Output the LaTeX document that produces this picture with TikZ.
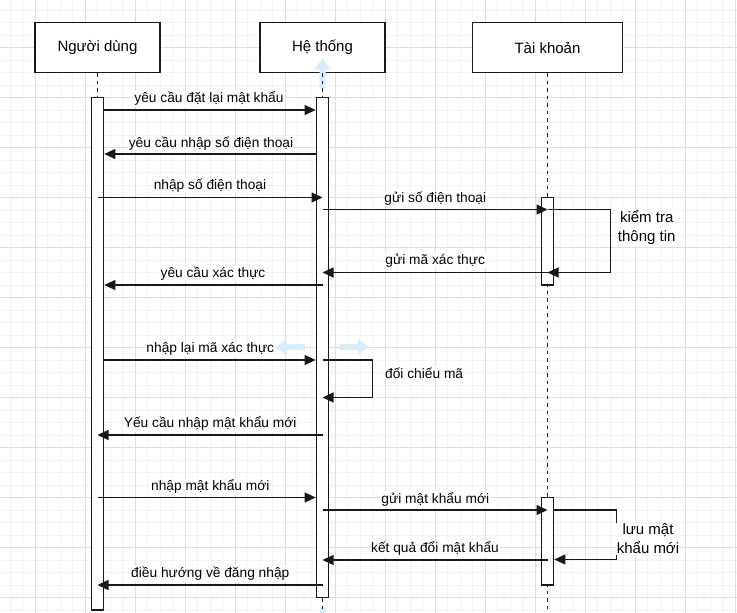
\documentclass[tikz,border=0pt]{standalone}
\usepackage{fontspec}
\setmainfont{Liberation Sans}
\usetikzlibrary{arrows.meta}

\definecolor{gridminor}{RGB}{243,243,243}
\definecolor{gridmajor}{RGB}{222,222,222}
\definecolor{hoverblue}{RGB}{216,237,251}
\definecolor{ink}{RGB}{25,25,25}

\begin{document}
\begin{tikzpicture}[x=1pt,y=-1pt,
  actor/.style={draw=ink,fill=white,line width=1.2pt,minimum width=125pt,
    minimum height=50pt,inner sep=0pt,font=\fontsize{15}{18}\selectfont},
  bar/.style={draw=ink,fill=white,line width=1.2pt,minimum width=12.5pt,inner sep=0pt},
  life/.style={draw=ink,line width=1.2pt,dash pattern=on 3.75pt off 3.75pt},
  msg/.style={draw=ink,line width=1.2pt,-{Triangle[length=11pt,width=10pt]}},
  lbl/.style={fill=white,inner sep=1pt,anchor=base,font=\fontsize{13.75}{16.5}\selectfont},
  note/.style={fill=white,inner sep=1pt,align=center,font=\fontsize{15}{19}\selectfont},
  guide/.style={fill=hoverblue},
]
% canvas
\useasboundingbox (0,0) rectangle (737,613);
\fill[white] (0,0) rectangle (737,613);

% background grid: fine lines every 12.5, strong lines every 50
\foreach \i in {0,...,58}{
  \draw[gridminor,line width=1pt] ({10+12.5*\i},0) -- ({10+12.5*\i},613);}
\foreach \j in {0,...,48}{
  \draw[gridminor,line width=1pt] (0,{10+12.5*\j}) -- (737,{10+12.5*\j});}
\foreach \i in {-1,...,14}{
  \draw[gridmajor,line width=1pt] ({35+50*\i},0) -- ({35+50*\i},613);}
\foreach \j in {0,...,11}{
  \draw[gridmajor,line width=1pt] (0,{47.5+50*\j}) -- (737,{47.5+50*\j});}

% participants
\node[actor] (u) at (97.5,47.5) {Người dùng};
\node[actor] (s) at (322.5,47.5) {Hệ thống};
\node[actor,minimum width=150pt] (t) at (547.5,47.5) {Tài khoản};

% faint guide arrows around the system bar
\fill[guide] (322.5,58.5) -- (330.5,69.5) -- (325.5,69.5) -- (325.5,88)
  -- (319.5,88) -- (319.5,69.5) -- (314.5,69.5) -- cycle;
\fill[guide] (319.5,607) rectangle (325.5,613);
\fill[guide] (275.5,347) -- (286.5,339) -- (286.5,344) -- (305,344)
  -- (305,350) -- (286.5,350) -- (286.5,355) -- cycle;
\fill[guide] (369,347) -- (358,339) -- (358,344) -- (339.5,344)
  -- (339.5,350) -- (358,350) -- (358,355) -- cycle;

% lifelines
\coordinate (uend) at (97.5,613);
\coordinate (send) at (322.5,613);
\coordinate (tend) at (547.5,613);
\draw[life] (u.south) -- (uend);
\draw[life] (s.south) -- (send);
\draw[life] (t.south) -- (tend);

% activation bars
\node[bar,minimum height=512.5pt] (ub) at (97.5,353.75) {};
\node[bar,minimum height=500pt] (sb) at (322.5,347.5) {};
\node[bar,minimum height=87.5pt] (tb1) at (547.5,241.25) {};
\node[bar,minimum height=87.5pt] (tb2) at (547.5,541.25) {};

% messages
\draw[msg] (ub.east |- 0,110) -- (sb.west |- 0,110);
\node[lbl] (l1) at (209,102.8) {yêu cầu đặt lại mật khẩu};

\draw[msg] (sb.west |- 0,154) -- (ub.east |- 0,154);
\node[lbl] (l2) at (211,147.8) {yêu cầu nhập số điện thoại};

\draw[msg] (ub.center |- 0,197.5) -- (sb.center |- 0,197.5);
\node[lbl] (l3) at (210,189.5) {nhập số điện thoại};

\draw[msg] (sb.center |- 0,209.5) -- (tb1.center |- 0,209.5);
\node[lbl] (l4) at (435.3,202.8) {gửi số điện thoại};

\draw[msg] (tb1.center |- 0,209.5) -- ++(63,0) -- ++(0,63) -- (tb1.center |- 0,272.5);
\node[note] (n1) at (646.7,227.8) {kiểm tra\\thông tin};

\draw[msg] (tb1.center |- 0,272.5) -- (sb.center |- 0,272.5);
\node[lbl] (l6) at (435.2,264.5) {gửi mã xác thực};

\draw[msg] (sb.center |- 0,285) -- (ub.east |- 0,285);
\node[lbl] (l7) at (213,277.8) {yêu cầu xác thực};

\draw[msg] (ub.east |- 0,360) -- (sb.west |- 0,360);
\node[lbl] (l8) at (210.3,352.8) {nhập lại mã xác thực};

\draw[msg] (sb.center |- 0,360) -- ++(50,0) -- ++(0,37.5) -- (sb.center |- 0,397.5);
\node[lbl,anchor=base west] (l9) at (384,378) {đối chiếu mã};

\draw[msg] (sb.center |- 0,435) -- (ub.center |- 0,435);
\node[lbl] (l10) at (210.2,427.8) {Yếu cầu nhập mật khẩu mới};

\draw[msg] (ub.center |- 0,497.5) -- (sb.west |- 0,497.5);
\node[lbl] (l11) at (210.3,490.2) {nhập mật khẩu mới};

\draw[msg] (sb.center |- 0,510) -- (tb2.center |- 0,510);
\node[lbl] (l12) at (435.3,503.5) {gửi mật khẩu mới};

\draw[msg] (tb2.east |- 0,510) -- ++(62.25,0) -- ++(0,49.5) -- (tb2.east |- 0,559.5);
\node[note] (n2) at (648,538.7) {lưu mật\\khẩu mới};

\draw[msg] (tb2.center |- 0,560) -- (sb.center |- 0,560);
\node[lbl] (l14) at (435,552.8) {kết quả đổi mật khẩu};

\draw[msg] (sb.center |- 0,585) -- (ub.center |- 0,585);
\node[lbl] (l15) at (210.3,577.8) {điều hướng về đăng nhập};
\end{tikzpicture}
\end{document}
